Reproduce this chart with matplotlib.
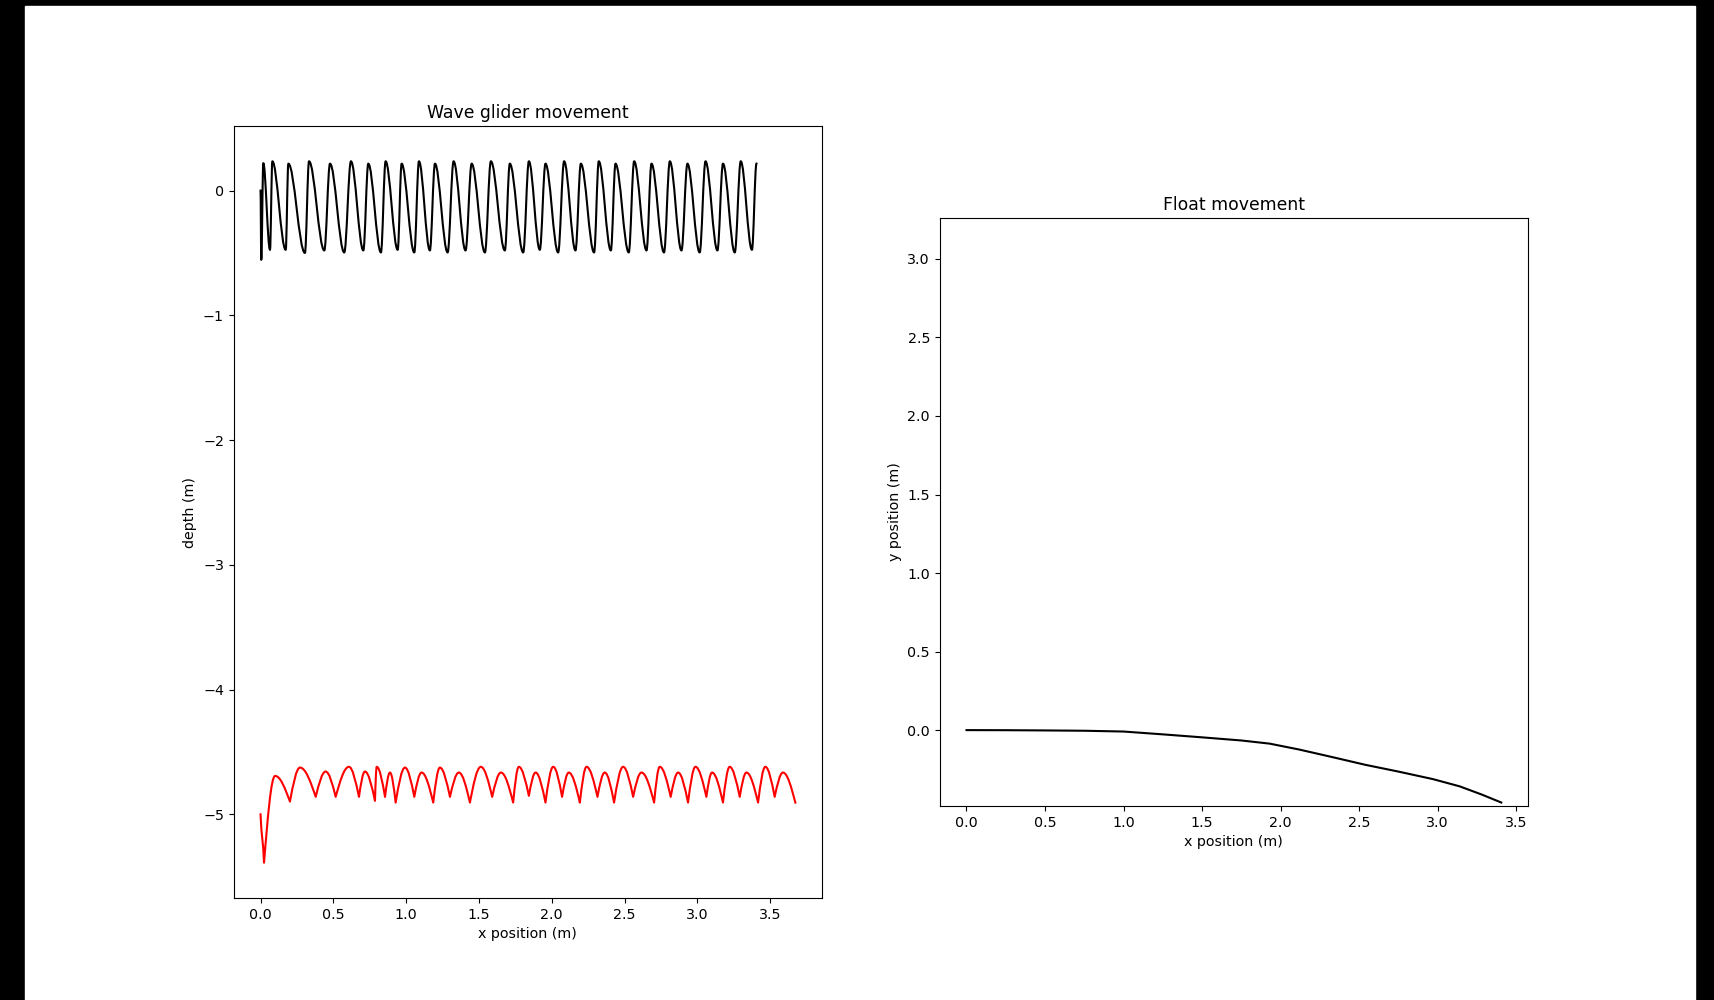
import matplotlib
matplotlib.use('Agg')
import matplotlib.pyplot as plt
from matplotlib.path import Path
from matplotlib.patches import PathPatch, Rectangle

# glider surface float (black) - turning points of the oscillation
float_x = [0.0, 0.005, 0.019, 0.065, 0.081, 0.173, 0.191, 0.305, 0.333, 0.438,
           0.477, 0.575, 0.621, 0.706, 0.740, 0.827, 0.859, 0.942, 0.969, 1.056,
           1.088, 1.163, 1.198, 1.285, 1.326, 1.408, 1.450, 1.541, 1.582, 1.678,
           1.712, 1.804, 1.843, 1.918, 1.957, 2.044, 2.085, 2.163, 2.200, 2.291,
           2.323, 2.406, 2.438, 2.529, 2.566, 2.651, 2.685, 2.771, 2.811, 2.891,
           2.932, 3.016, 3.056, 3.138, 3.176, 3.257, 3.298, 3.375, 3.406]
float_depth = [0.0, -0.555, 0.22, -0.475, 0.235, -0.475, 0.216, -0.50, 0.235, -0.48,
               0.216, -0.496, 0.235, -0.48, 0.216, -0.496, 0.235, -0.475, 0.216, -0.496,
               0.235, -0.48, 0.216, -0.496, 0.235, -0.48, 0.216, -0.496, 0.235, -0.48,
               0.216, -0.496, 0.235, -0.475, 0.216, -0.496, 0.235, -0.48, 0.216, -0.496,
               0.235, -0.48, 0.216, -0.496, 0.235, -0.48, 0.216, -0.496, 0.235, -0.48,
               0.216, -0.496, 0.235, -0.48, 0.216, -0.496, 0.235, -0.475, 0.216]

# glider wing (red) - turning points
wing_x = [0.0, 0.024, 0.100, 0.202, 0.271, 0.379, 0.447, 0.516, 0.607, 0.676,
          0.717, 0.786, 0.798, 0.855, 0.889, 0.928, 0.992, 1.056, 1.106, 1.186,
          1.232, 1.301, 1.362, 1.438, 1.513, 1.591, 1.651, 1.735, 1.774, 1.843,
          1.889, 1.957, 2.010, 2.071, 2.117, 2.193, 2.239, 2.314, 2.364, 2.428,
          2.490, 2.559, 2.616, 2.703, 2.742, 2.817, 2.868, 2.936, 2.987, 3.062,
          3.101, 3.176, 3.222, 3.291, 3.337, 3.417, 3.467, 3.531, 3.588, 3.673]
wing_depth = [-5.0, -5.388, -4.692, -4.898, -4.625, -4.86, -4.657, -4.86, -4.619, -4.86,
              -4.657, -4.892, -4.619, -4.86, -4.665, -4.906, -4.625, -4.86, -4.665, -4.906,
              -4.625, -4.86, -4.665, -4.906, -4.619, -4.86, -4.665, -4.906, -4.619, -4.852,
              -4.665, -4.906, -4.619, -4.86, -4.665, -4.906, -4.619, -4.86, -4.665, -4.906,
              -4.619, -4.86, -4.665, -4.906, -4.619, -4.86, -4.665, -4.906, -4.619, -4.86,
              -4.665, -4.906, -4.619, -4.86, -4.665, -4.906, -4.619, -4.86, -4.665, -4.906]

# float track
track_x = [0.0, 0.25, 0.5, 0.75, 1.0, 1.25, 1.5, 1.75, 1.93, 2.12, 2.33, 2.54, 2.75,
           2.97, 3.14, 3.28, 3.405]
track_y = [0.0, -0.0005, -0.002, -0.004, -0.009, -0.027, -0.046, -0.066, -0.086, -0.124,
           -0.172, -0.221, -0.264, -0.312, -0.358, -0.41, -0.461]


def wave_path(xs, ys, sharp_min=False):
    # smooth curve through turning points, flat at maxima (and minima unless sharp_min)
    n = len(xs)
    sharp = []
    for i in range(n):
        if not sharp_min:
            sharp.append(False)
        elif 0 < i < n - 1 and ys[i] > ys[i - 1] and ys[i] > ys[i + 1]:
            sharp.append(False)
        else:
            sharp.append(True)
    verts = [(xs[0], ys[0])]
    codes = [Path.MOVETO]
    for i in range(1, n):
        x0, y0, x1, y1 = xs[i - 1], ys[i - 1], xs[i], ys[i]
        dx, dy = x1 - x0, y1 - y0
        c1 = (x0 + 0.326 * dx, y0 + 0.512 * dy) if sharp[i - 1] else (x0 + 0.36 * dx, y0)
        c2 = (x1 - 0.326 * dx, y1 - 0.512 * dy) if sharp[i] else (x1 - 0.36 * dx, y1)
        verts += [c1, c2, (x1, y1)]
        codes += [Path.CURVE4] * 3
    return Path(verts, codes)


plt.rcParams['font.size'] = 10.3

fig = plt.figure(figsize=(17.14, 10), dpi=100, facecolor='black')
fig.patches.append(Rectangle((25 / 1714, 0), 1670 / 1714, 0.994,
                             transform=fig.transFigure, color='white', zorder=-1))
ax1 = fig.add_subplot(1, 2, 1)
ax2 = fig.add_subplot(1, 2, 2)
fig.subplots_adjust(left=0.1364, right=0.8915, bottom=0.1022, top=0.8738, wspace=0.2)

ax1.add_patch(PathPatch(wave_path(float_x, float_depth), fill=False, edgecolor='k',
                        linewidth=1.5, joinstyle='round', capstyle='projecting'))
ax1.add_patch(PathPatch(wave_path(wing_x, wing_depth, sharp_min=True), fill=False,
                        edgecolor='r', linewidth=1.5, joinstyle='round', capstyle='projecting'))
ax1.autoscale_view()
ax1.set_title('Wave glider movement', fontsize=12.4)
ax1.set_xlabel('x position (m)')
ax1.set_ylabel('depth (m)')

ax2.plot(track_x, track_y, 'k')
ax2.axis('square')
ax2.set_title('Float movement', fontsize=12.4)
ax2.set_xlabel('x position (m)')
ax2.set_ylabel('y position (m)')

fig.savefig('out.png', dpi=100, facecolor=fig.get_facecolor())
